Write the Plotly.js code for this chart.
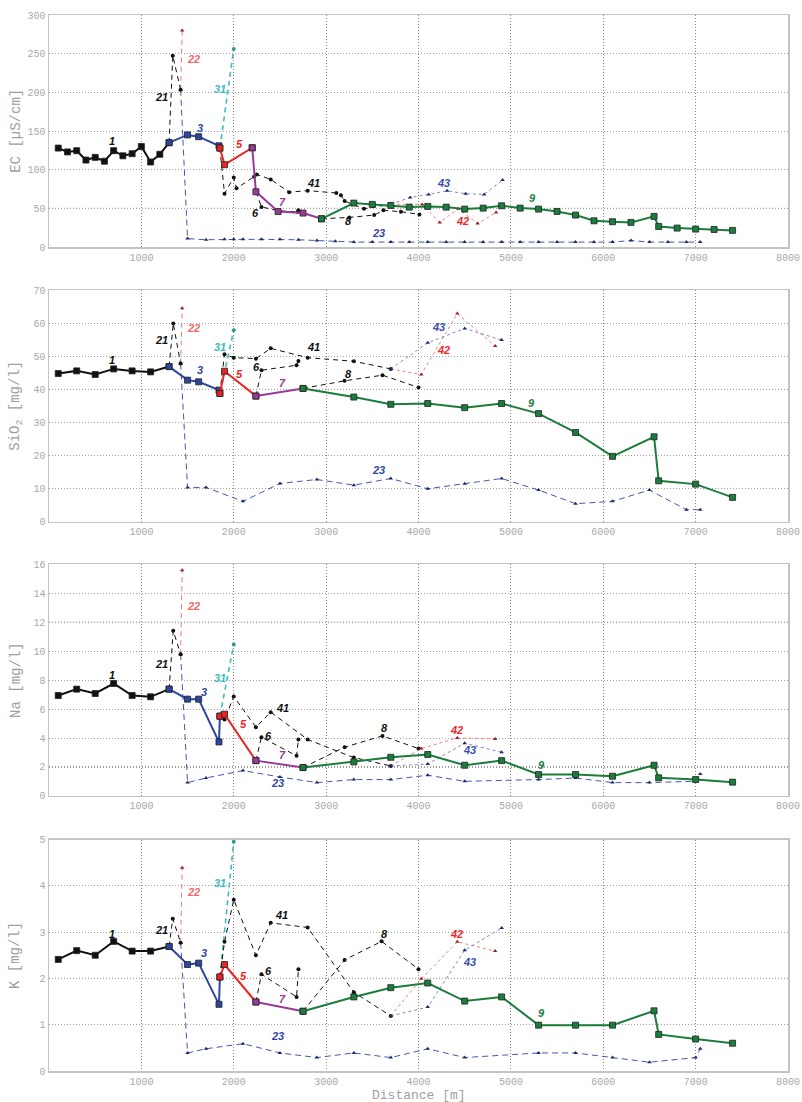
<!DOCTYPE html>
<html>
<head>
<meta charset="utf-8">
<script src="https://cdn.plot.ly/plotly-3.0.1.min.js"></script>
<style>html,body{margin:0;padding:0;background:#fff}#chart{width:802px;height:1102px}</style>
</head>
<body>
<div id="chart"></div>
<script>
// ---------- tick labels ----------
const xTickVals = [1000, 2000, 3000, 4000, 5000, 6000, 7000, 8000];
const panelTitles = ['EC [µS/cm]', 'SiO<sub>2</sub> [mg/l]', 'Na [mg/l]', 'K [mg/l]'];
const xTitle = 'Distance [m]';

// ---------- EC [µS/cm] ----------
const ec1_x = [100,200,300,400,500,600,700,800,900,1000,1100,1200,1300];
const ec1_y = [128,123,124.6,112.5,116,111,124.6,118,120.7,130,110,120,135];
const ec3_x = [1300,1500,1620,1840,1850];
const ec3_y = [135,145,142.7,131,128];
const ec5_x = [1850,1900,2200];
const ec5_y = [128,106.5,128.4];
const ec7_x = [2200,2240,2480,2750,2950];
const ec7_y = [128.4,71.5,46,44,36.6];
const ec9_x = [2950,3300,3500,3700,3900,4100,4300,4500,4700,4900,5100,5300,5500,5700,5900,6100,6300,6550,6600,6800,7000,7200,7400];
const ec9_y = [36.6,56.9,55.2,53.9,51.7,52.6,51.7,49.1,50.4,53.4,50.4,49.1,46.1,41.4,34,32.8,31.9,39.7,26.7,24.6,23.3,22.8,21.6];
const ec21_x = [1300,1340,1425];
const ec21_y = [135,247.4,203.4];
const ec22_x = [1425,1442];
const ec22_y = [203.4,280];
const ec23_x = [1425,1500,1700,1900,2000,2100,2300,2500,2700,2900,3100,3300,3500,3700,3900,4100,4300,4500,4700,4900,5100,5300,5500,5700,5900,6100,6300,6500,6700,6900,7050];
const ec23_y = [203.4,11,9.5,10,10,10,10,10,9.5,8.5,7.5,6.5,6.5,6.5,6.5,6.5,6.5,6.5,6.5,6.5,6.5,6.5,6.5,6.5,6.5,6.5,8.5,6.5,6.5,6.5,6.5];
const ec31_x = [1850,2000];
const ec31_y = [128,256];
const ec41_x = [1850,1900,2000,2030,2220,2250,2400,2600,2800,3110,3160,3200,3410,3700];
const ec41_y = [128,69,90,76,91,94,87.5,71,73,70,67,59.5,49.5,55.5];
const ec6_x = [2240,2300,2480,2690,2700];
const ec6_y = [71.5,52,47,45.5,47.5];
const ec8_x = [2950,3250,3520,3620,3810,4010];
const ec8_y = [36.6,38.4,41.4,47.5,45.7,42.3];
const ec42_x = [3700,4040,4230,4430,4640,4840];
const ec42_y = [55.5,55.2,31.9,49.6,30.6,44.8];
const ec43_x = [3700,3910,4110,4310,4510,4710,4910];
const ec43_y = [55.5,64.2,68.1,72.8,69,68.1,86.6];

// ---------- SiO2 [mg/l] ----------
const si1_x = [100,300,500,700,900,1100,1300];
const si1_y = [44.8,45.6,44.5,46.2,45.6,45.3,46.9];
const si3_x = [1300,1500,1620,1840,1850];
const si3_y = [46.9,42.8,42.3,39.8,38.8];
const si5_x = [1850,1900,2240];
const si5_y = [38.8,45.5,38.0];
const si7_x = [2240,2750];
const si7_y = [38.0,40.3];
const si9_x = [2750,3300,3700,4100,4500,4900,5300,5700,6100,6550,6600,7000,7400];
const si9_y = [40.3,37.7,35.5,35.75,34.5,35.75,32.7,27.0,19.8,25.7,12.4,11.4,7.4];
const si21_x = [1300,1345,1425];
const si21_y = [46.9,59.9,47.8];
const si22_x = [1425,1442];
const si22_y = [47.8,64.5];
const si23_x = [1425,1500,1700,2100,2500,2900,3300,3700,4100,4500,4900,5300,5700,6100,6500,6900,7050];
const si23_y = [47.8,10.4,10.4,6.2,11.6,12.8,11.1,13.1,10.0,11.5,13.1,9.6,5.5,6.2,9.6,3.7,3.7];
const si31_x = [1850,2000];
const si31_y = [38.8,57.9];
const si41_x = [1850,1900,2000,2240,2400,2800,3300,3700];
const si41_y = [38.8,50.6,49.6,49.3,52.4,49.6,48.5,46.2];
const si6_x = [2240,2300,2680,2700];
const si6_y = [38.0,45.8,47.3,48.6];
const si8_x = [2750,3200,3610,4000];
const si8_y = [40.3,42.6,44.3,40.6];
const si42_x = [3700,4030,4420,4830];
const si42_y = [46.2,44.5,62.9,53.1];
const si43_x = [3700,4100,4500,4900];
const si43_y = [46.2,54.1,58.4,54.9];

// ---------- Na [mg/l] ----------
const na1_x = [100,300,500,700,900,1100,1300];
const na1_y = [6.94,7.38,7.08,7.77,6.94,6.85,7.38];
const na3_x = [1300,1500,1620,1840,1850];
const na3_y = [7.38,6.69,6.69,3.73,5.51];
const na5_x = [1850,1900,2240];
const na5_y = [5.51,5.65,2.44];
const na7_x = [2240,2750];
const na7_y = [2.44,1.96];
const na9_x = [2750,3300,3700,4100,4500,4900,5300,5700,6100,6550,6600,7000,7400];
const na9_y = [1.96,2.35,2.67,2.86,2.12,2.44,1.48,1.48,1.36,2.12,1.25,1.13,0.95];
const na21_x = [1300,1345,1425];
const na21_y = [7.38,11.41,9.80];
const na22_x = [1425,1442];
const na22_y = [9.80,15.6];
const na23_x = [1425,1500,1700,2100,2500,2900,3300,3700,4100,4500,5300,5700,6100,6500,7000,7050];
const na23_y = [9.80,0.92,1.24,1.75,1.31,0.92,1.13,1.13,1.43,1.01,1.13,1.24,0.92,0.92,1.01,1.52];
const na31_x = [1850,2000];
const na31_y = [5.51,10.47];
const na41_x = [1850,1900,2000,2240,2400,2800,3300,3700];
const na41_y = [5.51,5.28,6.87,4.75,5.79,3.90,2.65,2.07];
const na6_x = [2240,2300,2680,2700];
const na6_y = [2.44,4.06,2.77,3.90];
const na8_x = [2750,3200,3610,4000];
const na8_y = [1.96,3.37,4.15,3.27];
const na42_x = [3700,4030,4420,4830];
const na42_y = [2.07,3.27,4.01,3.94];
const na43_x = [3700,4100,4500,4900];
const na43_y = [2.07,2.21,3.64,3.02];

// ---------- K [mg/l] ----------
const k1_x = [100,300,500,700,900,1100,1300];
const k1_y = [2.41,2.60,2.50,2.80,2.59,2.59,2.69];
const k3_x = [1300,1500,1620,1840,1850];
const k3_y = [2.69,2.30,2.33,1.44,2.03];
const k5_x = [1850,1900,2240];
const k5_y = [2.03,2.30,1.49];
const k7_x = [2240,2750];
const k7_y = [1.49,1.29];
const k9_x = [2750,3300,3700,4100,4500,4900,5300,5700,6100,6550,6600,7000,7400];
const k9_y = [1.29,1.60,1.80,1.90,1.51,1.60,0.99,0.99,0.99,1.30,0.79,0.69,0.60];
const k21_x = [1300,1340,1425];
const k21_y = [2.69,3.29,2.77];
const k22_x = [1425,1442];
const k22_y = [2.77,4.39];
const k23_x = [1425,1500,1700,2100,2500,2900,3300,3700,4100,4500,5300,5700,6100,6500,7000,7050];
const k23_y = [2.77,0.39,0.48,0.59,0.39,0.29,0.39,0.29,0.48,0.29,0.39,0.39,0.29,0.19,0.29,0.48];
const k31_x = [1850,2000];
const k31_y = [2.03,4.95];
const k41_x = [1850,1900,2000,2240,2400,2800,3300,3700];
const k41_y = [2.03,2.79,3.70,2.50,3.20,3.10,1.70,1.19];
const k6_x = [2240,2300,2680,2700];
const k6_y = [1.49,2.09,1.60,2.20];
const k8_x = [2750,3200,3600,4000];
const k8_y = [1.29,2.40,2.80,2.20];
const k42_x = [3700,4030,4420,4830];
const k42_y = [1.19,1.99,2.79,2.59];
const k43_x = [3700,4100,4500,4900];
const k43_y = [1.19,1.38,2.61,3.09];

// ---------- series labels ----------
const labelNames = ['1','21','22','31','3','5','41','6','7','8','23','43','42','9'];
const ecLabX = [677,1219,1566,1847,1631,2064,2866,2237,2527,3245,3570,4274,4477,5239];
const ecLabY = [137.5,194,243.5,204,154,133,83,43.6,58.6,33.6,18.5,83,34,63.8];
const siLabX = [678,1219,1569,1846,1634,2063,2860,2243,2524,3246,3570,4213,4267,5227];
const siLabY = [48.8,54.9,58.7,52.9,46.0,44.8,52.9,46.8,41.8,44.8,15.8,58.9,51.9,36.0];
const naLabX = [678,1219,1569,1846,1677,2110,2524,2373,2524,3631,2470,4556,4412,5332];
const naLabY = [8.35,9.15,13.1,8.16,7.19,4.96,6.11,4.15,2.81,4.66,0.92,3.16,4.54,2.17];
const kLabX = [678,1219,1569,1846,1677,2110,2517,2373,2524,3631,2470,4556,4412,5332];
const kLabY = [2.95,3.05,3.87,4.07,2.55,2.06,3.36,2.16,1.56,2.95,0.75,2.36,2.95,1.25];

// ---------- styling ----------
const COL = {
  '1': '#111111', '3': '#2b47a0', '5': '#ee2222', '7': '#9a3a98', '9': '#1b7d3c',
  '21': '#111111', '41': '#111111', '6': '#111111', '8': '#111111',
  '22': '#f06a6a', '23': '#2f45a8', '31': '#3dbcc4', '42': '#ee2a2a', '43': '#3a4cb0'
};
function solid(name) {
  return { mode: 'lines+markers', line: { color: COL[name], width: 2 },
    marker: { symbol: 'square', size: 6, color: COL[name], line: { color: '#222', width: 0.8 } } };
}
function dashBlack() {
  return { mode: 'lines+markers', line: { color: '#111', width: 1, dash: '5px,4px' },
    marker: { symbol: 'circle', size: 4, color: '#111' } };
}
const styleFor = {
  '1': solid('1'), '3': solid('3'), '5': solid('5'), '7': solid('7'), '9': solid('9'),
  '21': dashBlack(), '41': dashBlack(), '6': dashBlack(), '8': dashBlack(),
  '22': { mode: 'lines+markers', line: { color: '#f07878', width: 1, dash: '5px,4px' },
          marker: { symbol: 'triangle-up', size: 4, color: '#a02020' } },
  '23': { mode: 'lines+markers', line: { color: '#4656b4', width: 1, dash: '6px,4px' },
          marker: { symbol: 'triangle-up', size: 4, color: '#1a2a6a' } },
  '31': { mode: 'lines+markers', line: { color: '#3dbcc4', width: 1.6, dash: '5px,4px' },
          marker: { symbol: 'circle', size: 4, color: '#2a9aa0' } },
  '42': { mode: 'lines+markers', line: { color: '#f06060', width: 0.8, dash: '3px,3px' },
          marker: { symbol: 'triangle-up', size: 4, color: '#a02020' } },
  '43': { mode: 'lines+markers', line: { color: '#5868c0', width: 0.8, dash: '3px,3px' },
          marker: { symbol: 'triangle-up', size: 4, color: '#1a2a6a' } }
};

const panels = [
  { ax: '',  series: {
      '23':[ec23_x,ec23_y],'22':[ec22_x,ec22_y],'21':[ec21_x,ec21_y],'31':[ec31_x,ec31_y],
      '41':[ec41_x,ec41_y],'6':[ec6_x,ec6_y],'8':[ec8_x,ec8_y],'42':[ec42_x,ec42_y],'43':[ec43_x,ec43_y],
      '1':[ec1_x,ec1_y],'3':[ec3_x,ec3_y],'5':[ec5_x,ec5_y],'7':[ec7_x,ec7_y],'9':[ec9_x,ec9_y]},
    labX: ecLabX, labY: ecLabY },
  { ax: '2', series: {
      '23':[si23_x,si23_y],'22':[si22_x,si22_y],'21':[si21_x,si21_y],'31':[si31_x,si31_y],
      '41':[si41_x,si41_y],'6':[si6_x,si6_y],'8':[si8_x,si8_y],'42':[si42_x,si42_y],'43':[si43_x,si43_y],
      '1':[si1_x,si1_y],'3':[si3_x,si3_y],'5':[si5_x,si5_y],'7':[si7_x,si7_y],'9':[si9_x,si9_y]},
    labX: siLabX, labY: siLabY },
  { ax: '3', series: {
      '23':[na23_x,na23_y],'22':[na22_x,na22_y],'21':[na21_x,na21_y],'31':[na31_x,na31_y],
      '41':[na41_x,na41_y],'6':[na6_x,na6_y],'8':[na8_x,na8_y],'42':[na42_x,na42_y],'43':[na43_x,na43_y],
      '1':[na1_x,na1_y],'3':[na3_x,na3_y],'5':[na5_x,na5_y],'7':[na7_x,na7_y],'9':[na9_x,na9_y]},
    labX: naLabX, labY: naLabY },
  { ax: '4', series: {
      '23':[k23_x,k23_y],'22':[k22_x,k22_y],'21':[k21_x,k21_y],'31':[k31_x,k31_y],
      '41':[k41_x,k41_y],'6':[k6_x,k6_y],'8':[k8_x,k8_y],'42':[k42_x,k42_y],'43':[k43_x,k43_y],
      '1':[k1_x,k1_y],'3':[k3_x,k3_y],'5':[k5_x,k5_y],'7':[k7_x,k7_y],'9':[k9_x,k9_y]},
    labX: kLabX, labY: kLabY }
];

const traces = [];
const annotations = [];
panels.forEach(p => {
  const order = ['23','22','21','31','41','6','8','42','43','1','3','5','7','9'];
  order.forEach(n => {
    const s = p.series[n];
    const st = styleFor[n];
    traces.push(Object.assign({ type: 'scatter', x: s[0], y: s[1], name: n,
      xaxis: 'x' + p.ax, yaxis: 'y' + p.ax, showlegend: false, hoverinfo: 'skip', cliponaxis: false }, JSON.parse(JSON.stringify(st))));
  });
  labelNames.forEach((n, i) => {
    annotations.push({ x: p.labX[i], y: p.labY[i], xref: 'x' + p.ax, yref: 'y' + p.ax,
      text: n, showarrow: false,
      font: { family: 'Liberation Sans, Arial, sans-serif', size: 11, color: COL[n], style: 'italic', weight: 'bold' } });
  });
});

// panel geometry (paper fractions)
const domains = [[0.7802, 1.0], [0.5200, 0.7395], [0.2605, 0.4797], [0.0, 0.2192]];
const yRanges = [[0, 300], [0, 70], [0, 16], [0, 5]];
const yDticks = [50, 10, 2, 1];
const darkLines = [[50], [40], [2, 12], [2]];

const tickFont = { family: 'Liberation Mono, DejaVu Sans Mono, monospace', size: 10, color: '#a8a8a8' };
const layout = {
  width: 802, height: 1102,
  margin: { l: 49, r: 14, t: 15, b: 31 },
  paper_bgcolor: '#fff', plot_bgcolor: '#fff',
  showlegend: false,
  annotations: annotations,
  shapes: []
};
const axSuffix = ['', '2', '3', '4'];
axSuffix.forEach((a, i) => {
  layout['xaxis' + a] = {
    domain: [0, 1], anchor: 'y' + a, range: [0, 8000], tickvals: xTickVals,
    showgrid: true, gridcolor: '#8a8a8a', griddash: '1px,2px', gridwidth: 1,
    showline: true, mirror: true, linecolor: '#c4c4c4', linewidth: 1.5,
    zeroline: false, ticks: '', tickfont: tickFont, automargin: false
  };
  layout['yaxis' + a] = {
    domain: domains[i], anchor: 'x' + a, range: yRanges[i], dtick: yDticks[i], tick0: 0,
    showgrid: true, gridcolor: '#a0a0a0', griddash: '1px,2px', gridwidth: 1,
    showline: true, mirror: true, linecolor: '#c4c4c4', linewidth: 1.5,
    zeroline: false, ticks: '', tickfont: tickFont, automargin: false
  };
  darkLines[i].forEach(v => {
    layout.shapes.push({ type: 'line', xref: 'x' + a + ' domain', yref: 'y' + a, x0: 0, x1: 1, y0: v, y1: v,
      line: { color: '#222', width: 1, dash: '1px,2px' }, layer: 'below' });
  });
  annotations.push({ xref: 'paper', yref: 'paper', x: -0.045, y: (domains[i][0] + domains[i][1]) / 2,
    text: panelTitles[i], textangle: -90, showarrow: false, xanchor: 'center', yanchor: 'middle',
    font: { family: 'Liberation Mono, DejaVu Sans Mono, monospace', size: 14, color: '#a0a0a0' } });
});
annotations.push({ xref: 'paper', yref: 'paper', x: 0.5, y: -0.0228, text: xTitle, showarrow: false,
  xanchor: 'center', yanchor: 'middle',
  font: { family: 'Liberation Mono, DejaVu Sans Mono, monospace', size: 13, color: '#a0a0a0' } });

Plotly.newPlot('chart', traces, layout, { staticPlot: true, displayModeBar: false });
</script>
</body>
</html>
